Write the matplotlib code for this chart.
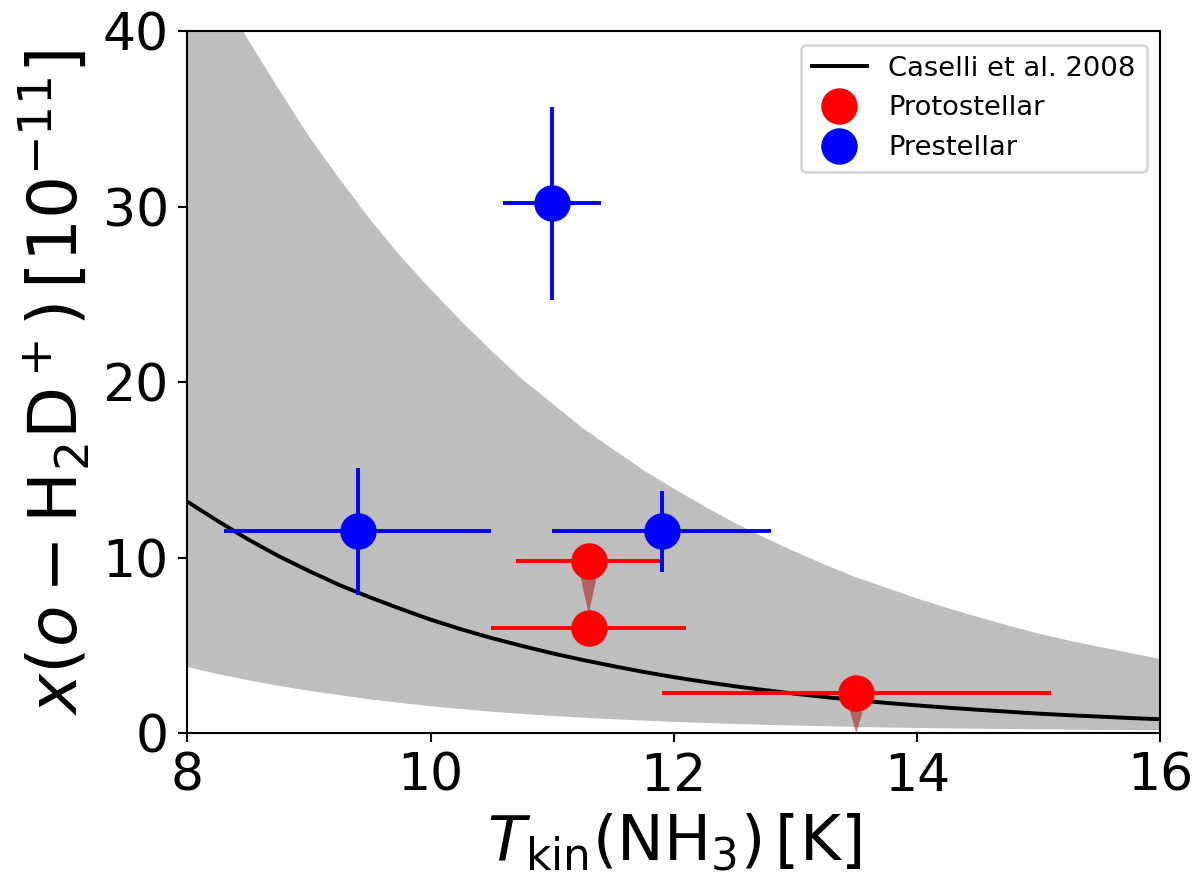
import matplotlib.pyplot as plt
from matplotlib.lines import Line2D

# Caselli et al. 2008 curve and its grey band
t_model = [8.00, 8.25, 8.50, 8.75, 9.00, 9.25, 9.50, 9.75, 10.00, 10.25, 10.50,
           10.75, 11.00, 11.25, 11.50, 11.75, 12.00, 12.25, 12.50, 12.75, 13.00,
           13.25, 13.50, 13.75, 14.00, 14.25, 14.50, 14.75, 15.00, 15.25, 15.50,
           15.75, 16.00]
x_model = [13.2, 12.1, 11.05, 10.1, 9.25, 8.45, 7.75, 7.1, 6.48, 5.93, 5.43,
           4.98, 4.56, 4.18, 3.83, 3.5, 3.2, 2.93, 2.68, 2.46, 2.25,
           2.06, 1.89, 1.73, 1.59, 1.46, 1.34, 1.23, 1.12, 1.03, 0.95,
           0.87, 0.8]
x_upper = [45.8, 42.5, 39.5, 36.7, 34.0, 31.6, 29.3, 27.2, 25.3, 23.5, 21.8,
           20.2, 18.8, 17.4, 16.2, 15.0, 13.95, 12.95, 12.0, 11.15, 10.35,
           9.6, 8.9, 8.3, 7.7, 7.15, 6.65, 6.15, 5.7, 5.3, 4.95,
           4.6, 4.25]
x_lower = [3.8, 3.4, 3.05, 2.73, 2.45, 2.2, 1.96, 1.76, 1.57, 1.41, 1.26,
           1.13, 1.02, 0.92, 0.83, 0.75, 0.68, 0.62, 0.56, 0.51, 0.47,
           0.43, 0.39, 0.36, 0.33, 0.31, 0.29, 0.27, 0.25, 0.24, 0.22,
           0.21, 0.2]

# protostellar cores
t_proto = [11.3, 11.3, 13.5]
t_proto_err = [0.6, 0.8, 1.6]
x_proto = [9.8, 6.0, 2.3]
# upper limits (arrow start and length)
lim_t = [11.3, 13.5]
lim_x = [9.8, 2.3]
lim_len = [3.0, 2.3]

# prestellar cores
t_pre = [11.0, 9.4, 11.9]
t_pre_err = [0.4, 1.1, 0.9]
x_pre = [30.2, 11.5, 11.5]
x_pre_err = [5.5, 3.6, 2.3]

fig = plt.figure(figsize=(6.4, 4.752), dpi=187.5)
ax = fig.add_axes([0.156, 0.177, 0.811, 0.788])

ax.fill_between(t_model, x_lower, x_upper, color='#bebebe', lw=0)
ax.plot(t_model, x_model, 'k-', lw=1.5, label='Caselli et al. 2008')

# upper limit arrows
for xa, ya, la in zip(lim_t, lim_x, lim_len):
    ax.arrow(xa, ya, 0, -la, width=0.03, head_width=0.17, head_length=la * 0.9,
             length_includes_head=True, color='firebrick', alpha=0.6, lw=0)

ax.errorbar(t_proto, x_proto, xerr=t_proto_err, fmt='o', color='r',
            ms=13, elinewidth=1.5, capsize=0, label='Protostellar')
ax.errorbar(t_pre, x_pre, xerr=t_pre_err, yerr=x_pre_err, fmt='o', color='b',
            ms=13, elinewidth=1.5, capsize=0, label='Prestellar')

ax.set_xlim(8, 16)
ax.set_ylim(0, 40)
ax.set_xticks([8, 10, 12, 14, 16])
ax.set_yticks([0, 10, 20, 30, 40])
ax.tick_params(labelsize=20)
ax.set_xlabel(r'$T_{\rm kin}(\rm NH_3)\,[K]$', fontsize=24)
ax.set_ylabel(r'$x(o-{\rm H_2D^+})\,[10^{-11}]$', fontsize=26)

h, l = ax.get_legend_handles_labels()
h = [h[0],
     Line2D([], [], marker='o', color='r', ls='', ms=13),
     Line2D([], [], marker='o', color='b', ls='', ms=13)]
ax.legend(h, l, loc='upper right', fontsize=10.5)

fig.savefig('out.png')
